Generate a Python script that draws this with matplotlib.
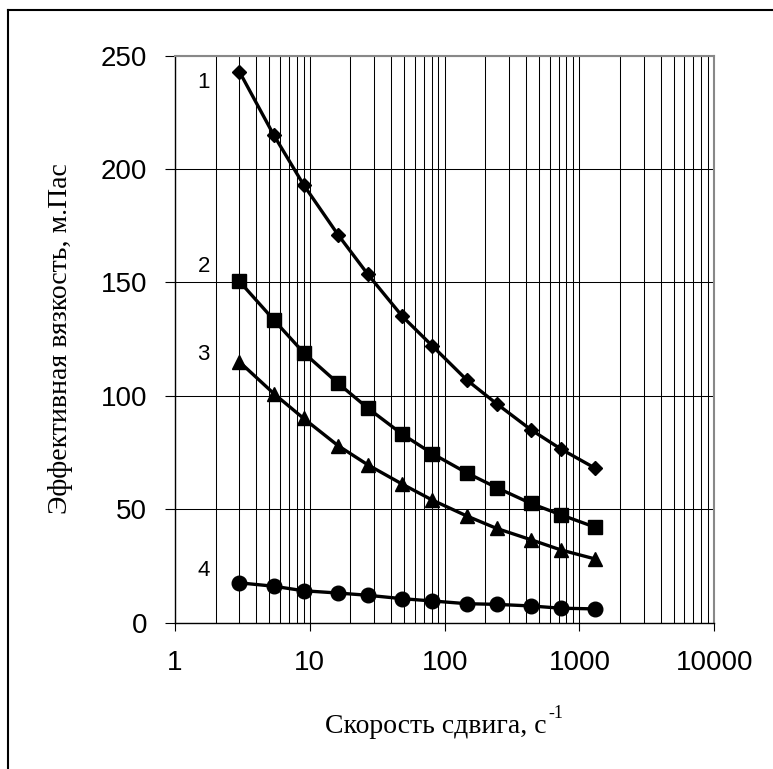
import matplotlib
matplotlib.use('Agg')
import matplotlib.pyplot as plt
from matplotlib.lines import Line2D
from matplotlib.ticker import LogLocator, FixedLocator, NullFormatter

# shear rates of the rotational viscometer, 1/s
shear_rate = [3, 5.4, 9, 16.2, 27, 48.6, 81, 145.8, 243, 437.4, 729, 1312]

# effective viscosity, mPa*s
visc_1 = [243, 215, 193, 171, 153.5, 135, 122, 107, 96.5, 85, 76.5, 68]
visc_2 = [150.5, 133.5, 119, 105.5, 94.5, 83, 74.5, 66, 59.5, 52.5, 47.5, 42]
visc_3 = [115, 101, 90, 78, 69.5, 61, 54, 47, 41.5, 36.5, 32, 28]
visc_4 = [17.5, 16, 14, 13, 12, 10.5, 9.5, 8.3, 8, 7.3, 6.3, 6]

curve_names = ['1', '2', '3', '4']
name_x = [1.63, 1.63, 1.63, 1.63]
name_y = [238, 157, 118, 23]

y_ticks = [0, 50, 100, 150, 200, 250]
x_ticks = [1, 10, 100, 1000, 10000]
x_ticklabels = ['1', '10', '100', '1000', '10000']


def main():
    fig = plt.figure(figsize=(7.73, 7.69), dpi=100)
    ax = fig.add_axes([0.2264, 0.1905, 0.6976, 0.7371])

    ax.set_xscale('log')
    ax.set_xlim(1, 10000)
    ax.set_ylim(0, 250)

    ax.xaxis.set_major_locator(FixedLocator(x_ticks))
    ax.xaxis.set_minor_locator(LogLocator(base=10, subs=range(2, 10)))
    ax.xaxis.set_minor_formatter(NullFormatter())
    ax.set_xticks(x_ticks, x_ticklabels)
    ax.set_yticks(y_ticks)

    ax.grid(True, which='both', axis='x', color='black', linewidth=0.75)
    ax.grid(True, which='major', axis='y', color='black', linewidth=0.75)
    ax.set_axisbelow(True)

    ax.tick_params(axis='y', which='major', direction='out', length=7.2, width=0.8,
                   pad=13, labelsize=20)
    ax.tick_params(axis='x', which='major', direction='out', length=5.8, width=0.8,
                   pad=14, labelsize=20)
    ax.tick_params(axis='x', which='minor', length=0)
    for lab in ax.get_xticklabels() + ax.get_yticklabels():
        lab.set_fontfamily('Liberation Sans')

    for side in ['left', 'bottom']:
        ax.spines[side].set_color('black')
        ax.spines[side].set_linewidth(1.0)
    for side in ['top', 'right']:
        ax.spines[side].set_color('#888888')
        ax.spines[side].set_linewidth(1.5)

    style = dict(color='black', linewidth=2.4, markeredgecolor='black',
                 markerfacecolor='black', clip_on=False, zorder=3)
    ax.plot(shear_rate, visc_1, marker='D', markersize=7.6, **style)
    ax.plot(shear_rate, visc_2, marker='s', markersize=10, **style)
    ax.plot(shear_rate, visc_3, marker='^', markersize=10.5, **style)
    ax.plot(shear_rate, visc_4, marker='o', markersize=10.5, **style)

    for name, x, y in zip(curve_names, name_x, name_y):
        ax.text(x, y, name, ha='center', va='center', fontsize=16,
                family='Liberation Sans', zorder=4)

    # x label with a raised "-1" placed right after it
    xlab = fig.text(0.5635, 1 - 733 / 769, 'Скорость сдвига, с', fontsize=20,
                    family='Liberation Serif', ha='center', va='baseline')
    fig.canvas.draw()
    bb = xlab.get_window_extent().transformed(fig.transFigure.inverted())
    fig.text(bb.x1 + 0.002, 1 - 705 / 769, '-1', fontsize=13,
             family='Liberation Serif', ha='left', va='top')

    ax.set_ylabel('Эффективная вязкость, м.Пас', fontsize=20, family='Liberation Serif')
    ax.yaxis.label.set_va('center')
    ax.yaxis.set_label_coords(-0.213, 0.5)

    # outer frame, only its top and left edges fall inside the image
    fig.add_artist(Line2D([8 / 773, 8 / 773], [0, 1 - 10 / 769],
                          transform=fig.transFigure, color='black', linewidth=1.5))
    fig.add_artist(Line2D([8 / 773, 1], [1 - 10 / 769, 1 - 10 / 769],
                          transform=fig.transFigure, color='black', linewidth=1.5))

    fig.savefig('out.png', dpi=100)


if __name__ == '__main__':
    main()
